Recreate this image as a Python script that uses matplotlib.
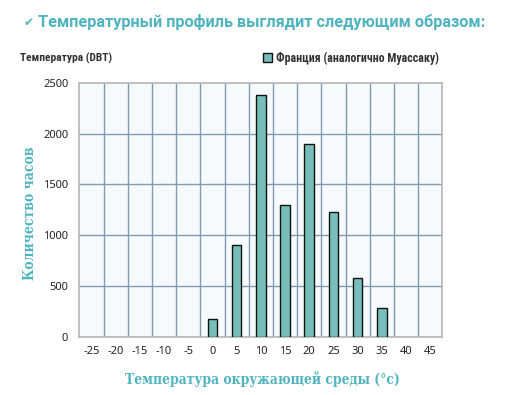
import matplotlib
matplotlib.use("Agg")
import matplotlib.pyplot as plt
from matplotlib import font_manager as fm
import numpy as np

categories = [-25, -20, -15, -10, -5, 0, 5, 10, 15, 20, 25, 30, 35, 40, 45]
hours = [0, 0, 0, 0, 0, 170, 905, 2375, 1300, 1900, 1230, 575, 280, 0, 0]
series_name = "Франция (аналогично Муассаку)"

teal = "#4fb4bf"

entries = fm.fontManager.ttflist
names = {f.name for f in entries}

def pick(cands):
    for fam, stretch in cands:
        if stretch is None:
            if fam in names:
                return dict(family=[fam, "DejaVu Sans"])
        else:
            if any(f.name == fam and f.stretch == stretch for f in entries):
                return dict(family=[fam, "DejaVu Sans"], fontstretch=stretch)
    return dict(family=["DejaVu Sans"])

cond = pick([("Liberation Sans Narrow", None), ("Roboto Condensed", None),
             ("DejaVu Sans", "condensed"), ("DejaVu Sans", "semi-condensed"), ("Roboto", None)])
serif = pick([("Roboto Slab", None), ("DejaVu Serif", "condensed"),
              ("DejaVu Serif", "semi-condensed"), ("DejaVu Serif", None)])
title_font = pick([("Roboto", None)])

fig = plt.figure(figsize=(5.14, 3.95), dpi=100)
ax = fig.add_axes([0.1543, 0.1476, 0.7062, 0.643])
ax.set_facecolor("#f6fafc")

x = np.arange(len(categories))
vals = np.array(hours, dtype=float)
mask = vals > 0
ax.bar(x[mask], vals[mask], width=0.39, color="#77bdbb", edgecolor="#111111", linewidth=1.0,
       zorder=3, label=series_name)
ax.set_xlim(-0.5, len(categories) - 0.5)
ax.set_ylim(0, 2500)
ax.set_yticks(range(0, 2501, 500))
ax.set_xticks(x)
ax.set_xticklabels([str(c) for c in categories])
for b in np.arange(0.5, len(categories) - 0.5, 1.0):
    ax.axvline(b, color="#7f9ab3", linewidth=1.0, zorder=1)
for yv in range(500, 2500, 500):
    ax.axhline(yv, color="#7f9ab3", linewidth=1.0, zorder=1)
ax.tick_params(length=0, labelsize=8, colors="#222222")
ax.tick_params(axis="x", pad=7)
ax.tick_params(axis="y", pad=8)
for lab in ax.get_xticklabels() + ax.get_yticklabels():
    lab.set_family(["Noto Sans", "DejaVu Sans"])
for s in ax.spines.values():
    s.set_color("#b5b5b5")
    s.set_linewidth(1.2)

xl = fig.text(0.51, 0.040, "Температура окружающей среды (°c)", fontweight="bold",
              color=teal, fontsize=10.5, ha="center", va="center", **serif)
yl = fig.text(0.058, 0.461, "Количество часов", fontweight="bold", rotation=90,
              color=teal, fontsize=10.5, ha="center", va="center", **serif)

ck = fig.text(0.045, 0.942, "✔", color=teal, fontsize=10, va="center", ha="left",
              family="DejaVu Sans", fontweight="bold")
tt = fig.text(0.074, 0.944, "Температурный профиль выглядит следующим образом:", color=teal,
              fontsize=11.5, fontweight="bold", va="center", ha="left", **title_font)
dbt = fig.text(0.039, 0.853, "Температура (DBT)", color="#333333", fontsize=8.5, fontweight="bold",
               va="center", ha="left", **cond)

leg = fig.legend(loc="center left", bbox_to_anchor=(0.511, 0.853), frameon=False,
                 prop=fm.FontProperties(weight="bold", size=8.5,
                                        **{("stretch" if k == "fontstretch" else k): v for k, v in cond.items()}),
                 handlelength=0.75, handleheight=0.75, handletextpad=0.35, borderaxespad=0,
                 borderpad=0)
for t in leg.get_texts():
    t.set_color("#333333")

fig.canvas.draw()
r = fig.canvas.get_renderer()

def fit(t, target, vertical=False):
    bb = t.get_window_extent(r)
    w = bb.height if vertical else bb.width
    t.set_fontsize(t.get_fontsize() * target / w)

fit(ck, 10)
fit(tt, 449)
fit(dbt, 92)
fit(leg.get_texts()[0], 161)
fit(xl, 274)
fit(yl, 133, vertical=True)

fig.savefig("out.png", dpi=100)
